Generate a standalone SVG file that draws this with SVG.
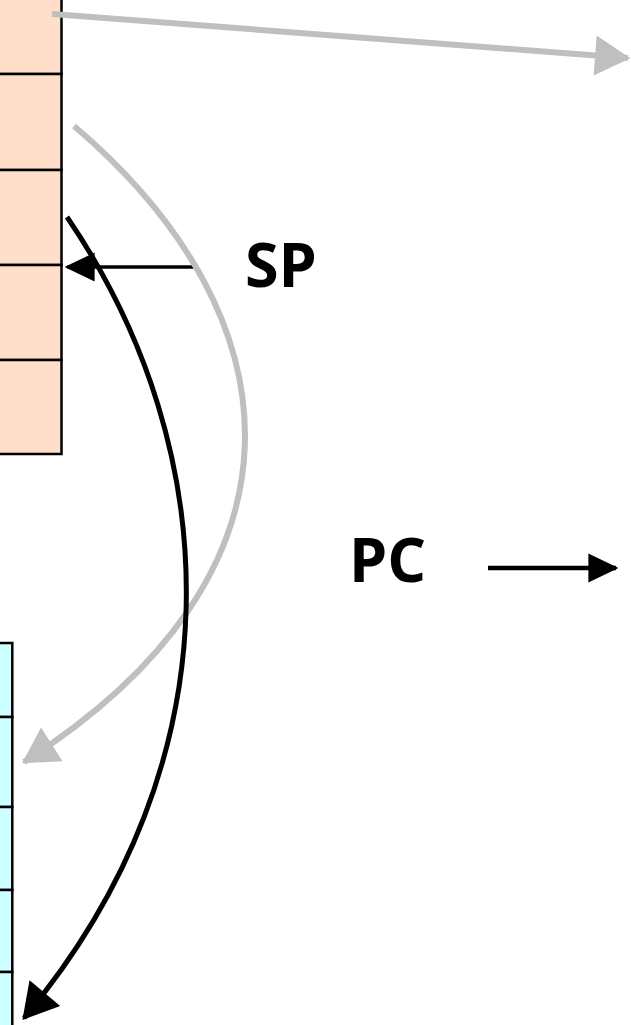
<svg xmlns="http://www.w3.org/2000/svg" width="631" height="1025" viewBox="0 0 631 1025">
<style>
.top{fill:#FFDFC9;stroke:#000;stroke-width:2.5}
.bot{fill:#CCFFFF;stroke:#000;stroke-width:2.5}
.lbl{font-family:"Open Sans","Noto Sans",sans-serif;font-weight:bold;font-size:61px;fill:#000}
.gray{fill:none;stroke:#BFBFBF;stroke-width:6}
.blk{fill:none;stroke:#000}
</style>
<defs>
<marker id="ag" markerUnits="userSpaceOnUse" markerWidth="40" markerHeight="40" viewBox="0 0 30 34" refX="28" refY="17" orient="auto"><path d="M0,0 L30,17 L0,34 Z" fill="#BFBFBF"/></marker>
<marker id="ab" markerUnits="userSpaceOnUse" markerWidth="40" markerHeight="40" viewBox="0 0 28 32" refX="26" refY="16" orient="auto"><path d="M0,0 L28,16 L0,32 Z" fill="#000"/></marker>
<marker id="as" markerUnits="userSpaceOnUse" markerWidth="30" markerHeight="30" viewBox="0 0 25 24" refX="23" refY="12" orient="auto"><path d="M0,0 L25,12 L0,24 Z" fill="#000"/></marker>
</defs>
<g id="stack-top">
<rect class="top" x="-10" y="-20" width="71.5" height="94"/>
<rect class="top" x="-10" y="74" width="71.5" height="96"/>
<rect class="top" x="-10" y="170" width="71.5" height="95"/>
<rect class="top" x="-10" y="265" width="71.5" height="95"/>
<rect class="top" x="-10" y="360" width="71.5" height="94"/>
</g>
<g id="stack-bottom">
<rect class="bot" x="-10" y="643" width="22.3" height="74"/>
<rect class="bot" x="-10" y="717" width="22.3" height="90"/>
<rect class="bot" x="-10" y="807" width="22.3" height="83"/>
<rect class="bot" x="-10" y="890" width="22.3" height="82"/>
<rect class="bot" x="-10" y="972" width="22.3" height="82"/>
</g>
<g id="label-sp"><text class="lbl" x="245" y="287">SP</text></g>
<g id="label-pc"><text class="lbl" x="349" y="582">PC</text></g>
<g id="connectors">
<line class="gray" x1="52" y1="14" x2="628" y2="58" marker-end="url(#ag)"/>
<line class="blk" x1="195" y1="267" x2="67" y2="267" stroke-width="3.5" marker-end="url(#as)"/>
<path class="gray" d="M74,126 C302,320 318,575 24,762" marker-end="url(#ag)"/>
<path class="blk" stroke-width="5" d="M67,217 C226,450 240,760 24,1018" marker-end="url(#ab)"/>
<line class="blk" x1="488" y1="568" x2="616" y2="568" stroke-width="4.5" marker-end="url(#as)"/>
</g>
</svg>
